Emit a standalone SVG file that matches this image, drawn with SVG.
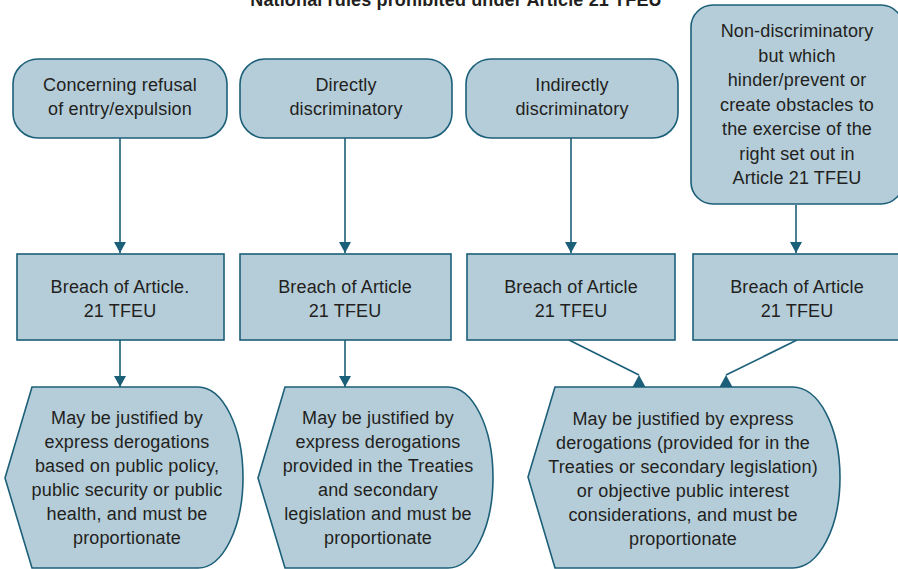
<svg xmlns="http://www.w3.org/2000/svg" width="898" height="569" viewBox="0 0 898 569">
  <style>
    .box { fill: #b4cdd9; stroke: #1c5f78; stroke-width: 1.6; }
    .lbl { font-family: "Liberation Sans", Arial, sans-serif; font-size: 18px; letter-spacing: 0.15px; fill: #231f20; text-anchor: middle; }
    .title { font-family: "Liberation Sans", Arial, sans-serif; font-size: 18px; letter-spacing: 0.15px; font-weight: bold; fill: #231f20; text-anchor: middle; }
    .conn { fill: none; stroke: #1c5f78; stroke-width: 1.6; }
  </style>
  <defs>
    <marker id="arrow" markerWidth="12" markerHeight="12" refX="11" refY="6" orient="auto" markerUnits="userSpaceOnUse">
      <path d="M0,0 L11,6 L0,12 Z" fill="#1c5f78"/>
    </marker>
    <!-- upright head used where slanted connectors meet the merged shape -->
    <marker id="arrowUp" markerWidth="14" markerHeight="14" refX="7" refY="1" orient="0" markerUnits="userSpaceOnUse" overflow="visible">
      <path d="M7,1 L13.5,13 L0.5,13 Z" fill="#1c5f78"/>
    </marker>
  </defs>
  <rect width="898" height="569" fill="#ffffff"/>

  <text class="title" x="456" y="5.5">National rules prohibited under Article 21 TFEU</text>

  <!-- connectors -->
  <g id="connectors">
    <line class="conn" x1="120" y1="138" x2="120" y2="253" marker-end="url(#arrow)"/>
    <line class="conn" x1="345" y1="138" x2="345" y2="253" marker-end="url(#arrow)"/>
    <line class="conn" x1="571" y1="138" x2="571" y2="253" marker-end="url(#arrow)"/>
    <line class="conn" x1="796" y1="205" x2="796" y2="253" marker-end="url(#arrow)"/>
    <line class="conn" x1="120" y1="340" x2="120" y2="387" marker-end="url(#arrow)"/>
    <line class="conn" x1="345" y1="340" x2="345" y2="387" marker-end="url(#arrow)"/>
    <line class="conn" x1="569" y1="340" x2="639" y2="375" marker-end="url(#arrowUp)"/>
    <line class="conn" x1="797" y1="340" x2="726" y2="375" marker-end="url(#arrowUp)"/>
  </g>

  <!-- top row: categories of national rules -->
  <g id="cat-refusal">
    <rect class="box" x="13" y="59" width="214" height="79" rx="25"/>
    <text class="lbl" x="120" y="91">Concerning refusal</text>
    <text class="lbl" x="120" y="115">of entry/expulsion</text>
  </g>
  <g id="cat-direct">
    <rect class="box" x="240" y="59" width="212" height="79" rx="25"/>
    <text class="lbl" x="346" y="91">Directly</text>
    <text class="lbl" x="346" y="115">discriminatory</text>
  </g>
  <g id="cat-indirect">
    <rect class="box" x="466" y="59" width="212" height="79" rx="25"/>
    <text class="lbl" x="572" y="91">Indirectly</text>
    <text class="lbl" x="572" y="115">discriminatory</text>
  </g>
  <g id="cat-nondisc">
    <rect class="box" x="691" y="5" width="212" height="199" rx="22"/>
    <text class="lbl" x="797" y="37">Non-discriminatory</text>
    <text class="lbl" x="797" y="61.5">but which</text>
    <text class="lbl" x="797" y="86">hinder/prevent or</text>
    <text class="lbl" x="797" y="110.5">create obstacles to</text>
    <text class="lbl" x="797" y="135">the exercise of the</text>
    <text class="lbl" x="797" y="159.5">right set out in</text>
    <text class="lbl" x="797" y="184">Article 21 TFEU</text>
  </g>

  <!-- middle row: breach -->
  <g id="breach-1">
    <rect class="box" x="17" y="254" width="207" height="86"/>
    <text class="lbl" x="120" y="293">Breach of Article.</text>
    <text class="lbl" x="120" y="317">21 TFEU</text>
  </g>
  <g id="breach-2">
    <rect class="box" x="240" y="254" width="211" height="86"/>
    <text class="lbl" x="345" y="293">Breach of Article</text>
    <text class="lbl" x="345" y="317">21 TFEU</text>
  </g>
  <g id="breach-3">
    <rect class="box" x="467" y="254" width="208" height="86"/>
    <text class="lbl" x="571" y="293">Breach of Article</text>
    <text class="lbl" x="571" y="317">21 TFEU</text>
  </g>
  <g id="breach-4">
    <rect class="box" x="693" y="254" width="207" height="86"/>
    <text class="lbl" x="797" y="293">Breach of Article</text>
    <text class="lbl" x="797" y="317">21 TFEU</text>
  </g>

  <!-- bottom row: justification (display shapes) -->
  <g id="just-1">
    <path class="box" d="M5,478 L32,387 L198,387 A45,90.5 0 0 1 198,568 L32,568 Z"/>
    <text class="lbl" x="127" y="424">May be justified by</text>
    <text class="lbl" x="127" y="448">express derogations</text>
    <text class="lbl" x="127" y="472">based on public policy,</text>
    <text class="lbl" x="127" y="496">public security or public</text>
    <text class="lbl" x="127" y="520">health, and must be</text>
    <text class="lbl" x="127" y="544">proportionate</text>
  </g>
  <g id="just-2">
    <path class="box" d="M258,478 L285,387 L448,387 A45,90.5 0 0 1 448,568 L285,568 Z"/>
    <text class="lbl" x="378" y="424">May be justified by</text>
    <text class="lbl" x="378" y="448">express derogations</text>
    <text class="lbl" x="378" y="472">provided in the Treaties</text>
    <text class="lbl" x="378" y="496">and secondary</text>
    <text class="lbl" x="378" y="520">legislation and must be</text>
    <text class="lbl" x="378" y="544">proportionate</text>
  </g>
  <g id="just-3">
    <path class="box" d="M528,477 L555,387 L793,387 A47,90.5 0 0 1 793,568 L555,568 Z"/>
    <text class="lbl" x="683" y="425">May be justified by express</text>
    <text class="lbl" x="683" y="449">derogations (provided for in the</text>
    <text class="lbl" x="683" y="473">Treaties or secondary legislation)</text>
    <text class="lbl" x="683" y="497">or objective public interest</text>
    <text class="lbl" x="683" y="521">considerations, and must be</text>
    <text class="lbl" x="683" y="545">proportionate</text>
  </g>
</svg>
